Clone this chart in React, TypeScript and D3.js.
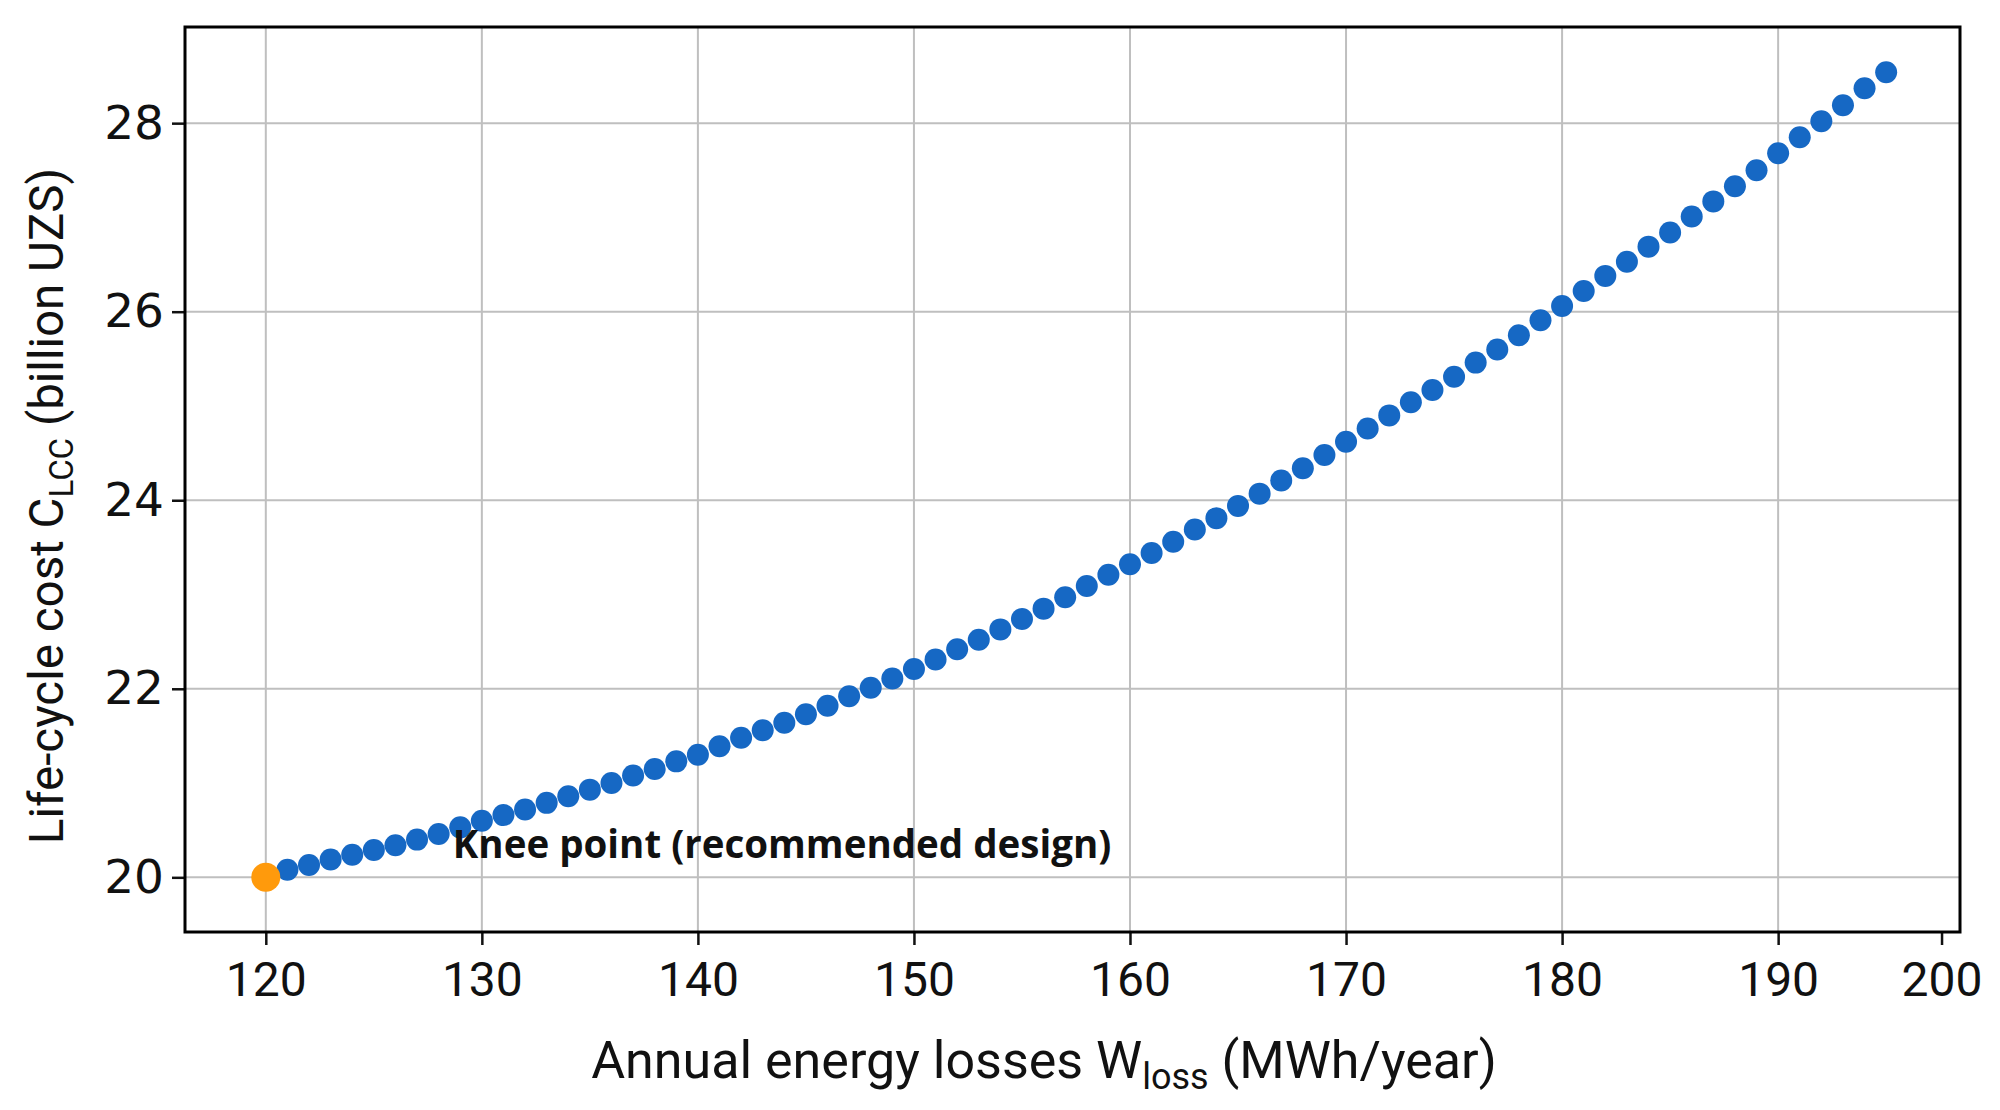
import * as d3 from "d3";
import { useRef, useEffect } from "react";

// annual energy losses (MWh/year), one design per point
const lossValues = [
  120, 121, 122, 123, 124, 125, 126, 127, 128, 129,
  130, 131, 132, 133, 134, 135, 136, 137, 138, 139,
  140, 141, 142, 143, 144, 145, 146, 147, 148, 149,
  150, 151, 152, 153, 154, 155, 156, 157, 158, 159,
  160, 161, 162, 163, 164, 165, 166, 167, 168, 169,
  170, 171, 172, 173, 174, 175, 176, 177, 178, 179,
  180, 181, 182, 183, 184, 185, 186, 187, 188, 189,
  190, 191, 192, 193, 194, 195,
];

// life-cycle cost (billion UZS)
const costValues = [
  20.0, 20.08, 20.13, 20.19, 20.24, 20.29, 20.34, 20.4, 20.46, 20.53,
  20.6, 20.66, 20.72, 20.79, 20.86, 20.93, 21.0, 21.08, 21.15, 21.23,
  21.3, 21.39, 21.48, 21.56, 21.64, 21.73, 21.82, 21.92, 22.01, 22.11,
  22.21, 22.31, 22.42, 22.52, 22.63, 22.74, 22.85, 22.97, 23.09, 23.21,
  23.32, 23.44, 23.56, 23.69, 23.81, 23.94, 24.07, 24.21, 24.34, 24.48,
  24.62, 24.76, 24.9, 25.04, 25.17, 25.31, 25.46, 25.6, 25.75, 25.91,
  26.06, 26.22, 26.38, 26.53, 26.69, 26.84, 27.01, 27.17, 27.33, 27.5,
  27.68, 27.85, 28.02, 28.19, 28.37, 28.54,
];

const kneeLoss = 120;
const kneeCost = 20.0;
const kneeLabel = "Knee point (recommended design)";

const xTicks = [120, 130, 140, 150, 160, 170, 180, 190, 200];
const xGrid = [120, 130, 140, 150, 160, 170, 180, 190];
const yTicks = [20, 22, 24, 26, 28];

const W = 2000;
const H = 1110;
const FONT = "Roboto, 'Liberation Sans', sans-serif";

export default function App() {
  const svgRef = useRef<SVGSVGElement | null>(null);

  useEffect(() => {
    const svg = d3.select(svgRef.current);
    svg.selectAll("*").remove();

    const left = 185, right = 1960, top = 27, bottom = 932;

    // the source squeezes the last ticks a bit, so the x scale is piecewise
    const x = d3
      .scaleLinear()
      .domain([116.26, 195, 200, 201.7])
      .range([left, left + (right - left) * 0.9584, left + (right - left) * 0.9896, right]);
    const y = d3.scaleLinear().domain([19.42, 29.02]).range([bottom, top]);

    svg.attr("viewBox", `0 0 ${W} ${H}`);
    svg.append("rect").attr("width", W).attr("height", H).attr("fill", "white");

    // grid
    const grid = svg.append("g").attr("stroke", "#bfbfbf").attr("stroke-width", 2);
    grid.selectAll("line.v")
      .data(xGrid)
      .join("line")
      .attr("class", "v")
      .attr("x1", d => x(d)).attr("x2", d => x(d))
      .attr("y1", top).attr("y2", bottom);
    grid.selectAll("line.h")
      .data(yTicks)
      .join("line")
      .attr("class", "h")
      .attr("x1", left).attr("x2", right)
      .attr("y1", d => y(d)).attr("y2", d => y(d));

    // axes
    const xAxis = svg.append("g")
      .attr("transform", `translate(0,${bottom})`)
      .call(d3.axisBottom(x).tickValues(xTicks).tickSize(13).tickPadding(17).tickFormat(d3.format("d")));
    const yAxis = svg.append("g")
      .attr("transform", `translate(${left},0)`)
      .call(d3.axisLeft(y).tickValues(yTicks).tickSize(13).tickPadding(8).tickFormat(d3.format("d")));
    [xAxis, yAxis].forEach(a => {
      a.select(".domain").remove();
      a.selectAll("line").attr("stroke", "#111").attr("stroke-width", 2.5);
      a.selectAll("text")
        .attr("fill", "#111")
        .attr("font-size", 48)
        .attr("font-family", FONT);
    });
    // y labels are drawn a little wider in the source
    yAxis.selectAll("text").attr("font-family", "'DejaVu Sans', sans-serif").attr("font-size", 47);

    // frame
    svg.append("rect")
      .attr("x", left).attr("y", top)
      .attr("width", right - left).attr("height", bottom - top)
      .attr("fill", "none")
      .attr("stroke", "#000")
      .attr("stroke-width", 3);

    // points
    const pts = lossValues.map((v, i) => ({ loss: v, cost: costValues[i] }));
    svg.append("g")
      .selectAll("circle")
      .data(pts.filter(d => d.loss !== kneeLoss))
      .join("circle")
      .attr("cx", d => x(d.loss))
      .attr("cy", d => y(d.cost))
      .attr("r", 11)
      .attr("fill", "#1668c4");

    svg.append("circle")
      .attr("cx", x(kneeLoss))
      .attr("cy", y(kneeCost))
      .attr("r", 14.5)
      .attr("fill", "#ff9a0c");

    svg.append("text")
      .attr("x", x(kneeLoss) + 187)
      .attr("y", y(kneeCost) - 19)
      .attr("font-family", "'Open Sans', 'Noto Sans', sans-serif")
      .attr("font-weight", 700)
      .attr("font-size", 38.5)
      .attr("fill", "#111")
      .text(kneeLabel);

    // axis titles
    const xt = svg.append("text")
      .attr("x", 1044)
      .attr("y", 1078)
      .attr("text-anchor", "middle")
      .attr("font-family", FONT)
      .attr("font-size", 52)
      .attr("fill", "#111");
    xt.append("tspan").text("Annual energy losses W");
    xt.append("tspan").attr("font-size", 36).attr("dy", 11).text("loss");
    xt.append("tspan").attr("dy", -11).text(" (MWh/year)");

    const yt = svg.append("text")
      .attr("transform", `translate(63,506) rotate(-90)`)
      .attr("text-anchor", "middle")
      .attr("font-family", FONT)
      .attr("font-size", 47.5)
      .attr("fill", "#111");
    yt.append("tspan").text("Life-cycle cost C");
    yt.append("tspan").attr("font-size", 33).attr("dy", 10).text("LCC");
    yt.append("tspan").attr("dy", -10).text(" (billion UZS)");
  }, []);

  return (
    <svg
      ref={svgRef}
      width={W}
      height={H}
      style={{ display: "block", position: "absolute", left: 0, top: 0 }}
    />
  );
}
